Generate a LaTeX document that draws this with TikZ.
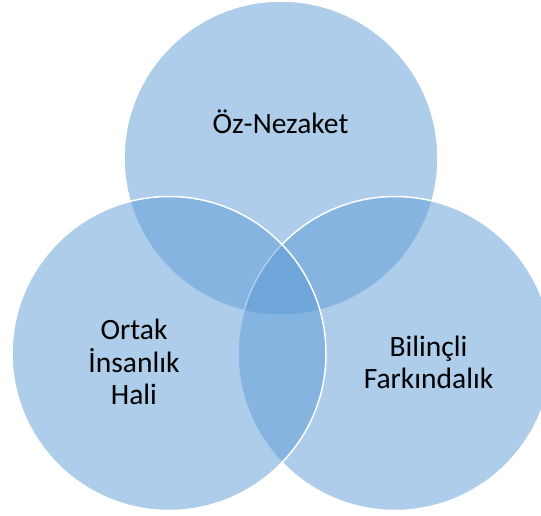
\documentclass[tikz,border=0pt]{standalone}
\usepackage{fontspec}
\setmainfont{Carlito}
\definecolor{vennblue}{HTML}{5B9BD5}
\tikzset{
  venn/.style={fill=vennblue, fill opacity=0.5, draw=white, line width=1.5pt},
  lbl/.style={text=black, align=center, font=\fontsize{29.5}{32.3}\selectfont, inner sep=0pt, anchor=base}
}
\begin{document}
\begin{tikzpicture}[x=1pt,y=-1pt]
\useasboundingbox (0,0) rectangle (541,515);
\clip (0,0) rectangle (541,515);
\path[venn] (281,158) circle[radius=157];
\path[venn] (395,353.5) circle[radius=157];
\path[venn] (169,353.5) circle[radius=157];
\node[lbl] (top) at (280.5,133) {Öz-Nezaket};
\node[lbl] (left) at (134,404.3) {Ortak\\İnsanlık\\Hali};
\node[lbl] (right) at (428.5,388.3) {Bilinçli\\Farkındalık};
\end{tikzpicture}
\end{document}
